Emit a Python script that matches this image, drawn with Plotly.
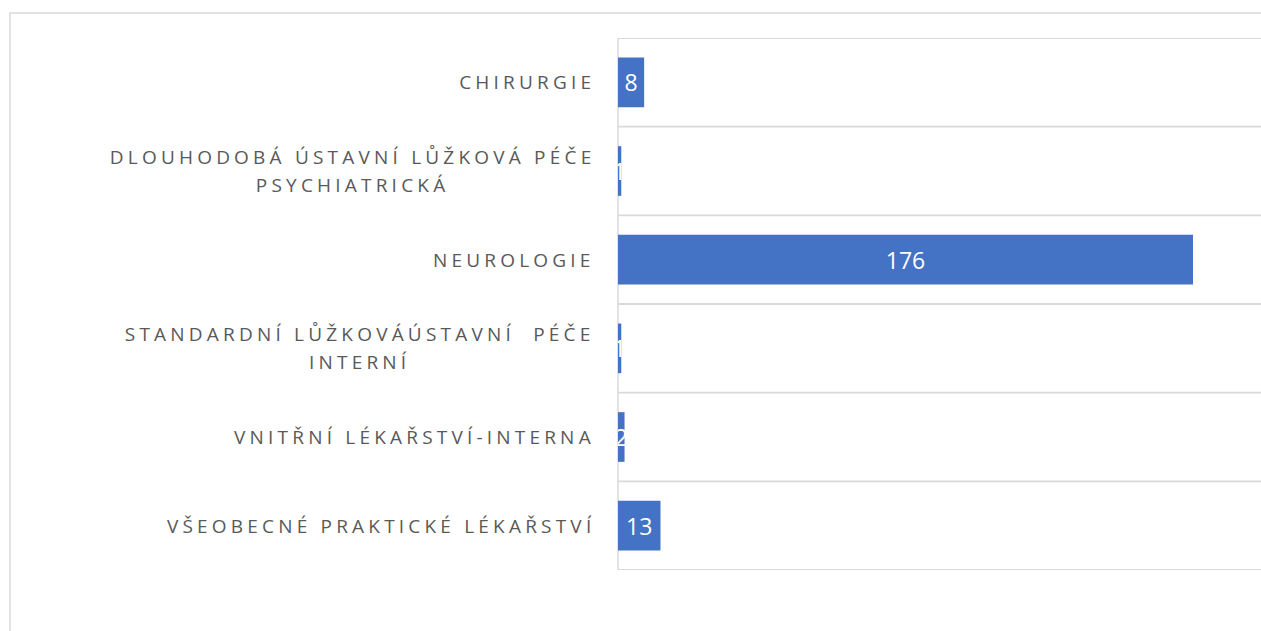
import plotly.graph_objects as go

categories = [
    "CHIRURGIE",
    "DLOUHODOBÁ ÚSTAVNÍ LŮŽKOVÁ PÉČE<br>PSYCHIATRICKÁ",
    "NEUROLOGIE",
    "STANDARDNÍ LŮŽKOVÁÚSTAVNÍ  PÉČE<br>INTERNÍ",
    "VNITŘNÍ LÉKAŘSTVÍ-INTERNA",
    "VŠEOBECNÉ PRAKTICKÉ LÉKAŘSTVÍ",
]
values = [8, 1, 176, 1, 2, 13]

BAR = "#4472C4"
GRID = "#d9d9d9"
LABEL = "#595959"

fig = go.Figure()
fig.add_trace(go.Bar(
    y=list(range(len(categories))),
    x=values,
    orientation="h",
    marker=dict(color=BAR, line=dict(width=0)),
    width=0.56,
    text=[str(v) for v in values],
    textposition="inside",
    insidetextanchor="middle",
    textangle=0,
    constraintext="none",
    textfont=dict(family="Open Sans", size=23, color="white"),
    hoverinfo="skip",
))

for i, c in enumerate(categories):
    fig.add_annotation(
        x=0, xref="paper", y=i, yref="y",
        text=c, showarrow=False, xanchor="right", yanchor="middle",
        align="center", xshift=-22,
        font=dict(family="Open Sans", size=19, color=LABEL),
    )

W, H = 1261, 631
L, R, T, B = 618, 0, 38, 61
pw = W - L - R
ph = H - T - B

fig.update_layout(
    width=W, height=H,
    margin=dict(l=L, r=R, t=T, b=B, pad=0),
    paper_bgcolor="white", plot_bgcolor="white",
    showlegend=False,
    uniformtext=dict(minsize=23, mode="show"),
    xaxis=dict(range=[0, 176 * pw / 575], showgrid=False, zeroline=False,
               showticklabels=False, showline=False, fixedrange=True),
    yaxis=dict(range=[len(categories) - 0.5, -0.5], tickmode="array",
               tickvals=list(range(len(categories))), ticktext=[""] * len(categories),
               showgrid=False, zeroline=False, showline=False, ticks="",
               fixedrange=True),
    shapes=[
        dict(type="rect", xref="paper", yref="paper",
             x0=(10 - L) / pw, x1=1.02, y0=-0.3, y1=(H - B - 13) / ph,
             line=dict(color=GRID, width=1.5), fillcolor="rgba(0,0,0,0)", layer="below"),
        dict(type="line", xref="paper", yref="paper", x0=0, x1=0, y0=0, y1=1,
             line=dict(color=GRID, width=1.5), layer="below"),
    ] + [
        dict(type="line", xref="paper", yref="y", x0=0, x1=1,
             y0=k - 0.5, y1=k - 0.5, line=dict(color=GRID, width=1.8), layer="below")
        for k in range(len(categories) + 1)
    ],
)

post = """
(function(){
document.body.style.margin = '0';
document.body.style.overflow = 'hidden';
var gd = document.getElementById('{plot_id}');
function fix(){
  gd.querySelectorAll('g.annotation').forEach(function(g){
    var t = g.querySelector('text.annotation-text');
    if(!t || t.getAttribute('data-fixed')) return;
    var b0 = t.getBBox();
    t.style.letterSpacing = '4.2px';
    var lines = t.querySelectorAll('tspan.line');
    lines.forEach(function(l, i){ l.setAttribute('dy', (i*1.47)+'em'); });
    var b1 = t.getBBox();
    var dx = (b0.x + b0.width) - (b1.x + b1.width) + 1;
    var dy = (b0.y + b0.height/2) - (b1.y + b1.height/2);
    t.setAttribute('transform', 'translate('+dx+','+dy+')');
    t.setAttribute('data-fixed','1');
  });
}
gd.on('plotly_afterplot', fix);
fix();
})();
"""

fig.write_html("out.html", post_script=post, config={"displayModeBar": False, "staticPlot": True})
